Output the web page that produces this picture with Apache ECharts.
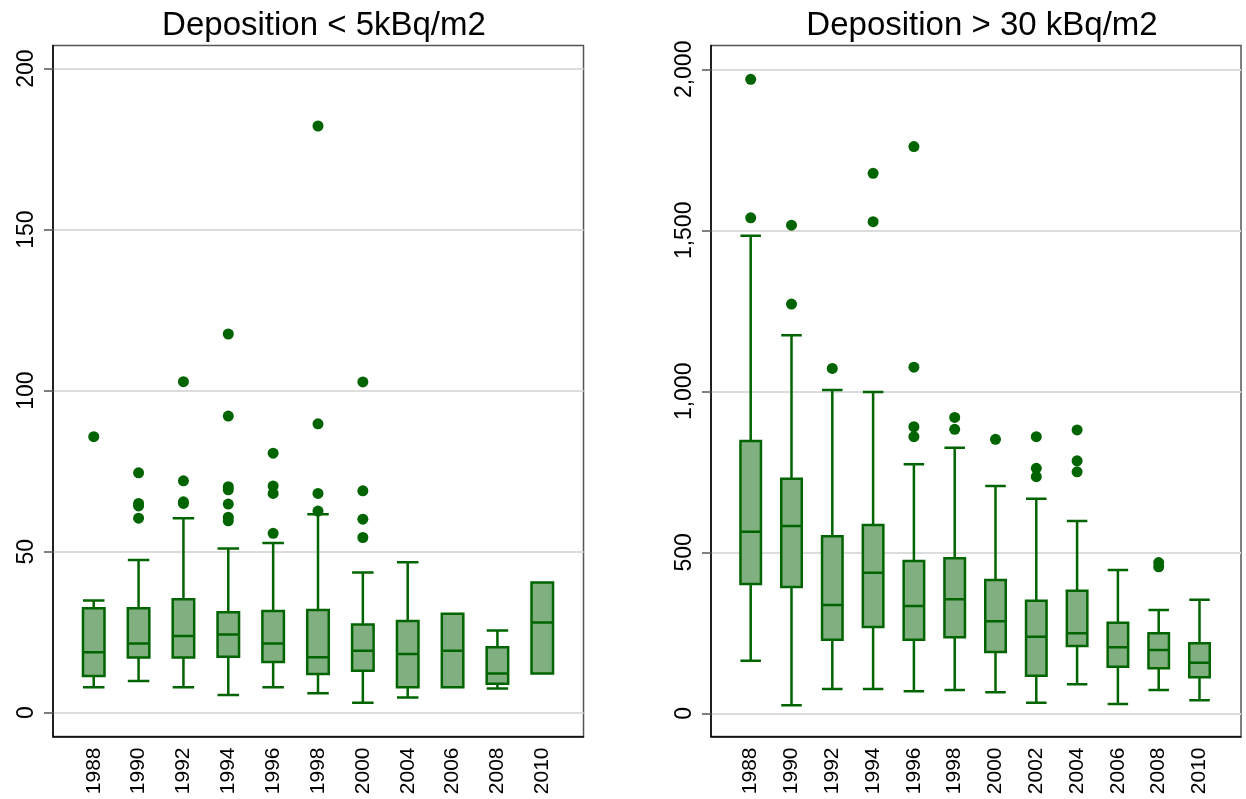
<!DOCTYPE html>
<html>
<head>
<meta charset="utf-8">
<script src="https://cdn.jsdelivr.net/npm/echarts@6/dist/echarts.min.js"></script>
<style>html,body{margin:0;padding:0;background:#fff}#c{width:1246px;height:799px}</style>
</head>
<body>
<div id="c"></div>
<script>
// ---- Left panel: Deposition < 5kBq/m2 ----
const yearsLow = ['1988','1990','1992','1994','1996','1998','2000','2004','2006','2008','2010'];
const lowMin = [7.9, 9.8, 7.9, 5.5, 7.9, 6.0, 3.1, 4.7, 7.9, 7.5, 12.2];
const lowQ1  = [11.4, 17.1, 17.1, 17.4, 15.7, 12.0, 13.0, 7.9, 7.9, 9.0, 12.2];
const lowMed = [18.8, 21.5, 23.8, 24.3, 21.5, 17.2, 19.2, 18.2, 19.2, 12.2, 28.0];
const lowQ3  = [32.4, 32.4, 35.2, 31.2, 31.6, 31.9, 27.4, 28.5, 30.7, 20.3, 40.4];
const lowMax = [34.8, 47.4, 60.4, 51.0, 52.7, 61.6, 43.5, 46.7, 30.7, 25.5, 40.4];
const lowOutlierYears  = ['1988','1990','1990','1990','1990','1992','1992','1992','1992',
  '1994','1994','1994','1994','1994','1994','1994','1996','1996','1996','1996',
  '1998','1998','1998','1998','2000','2000','2000','2000'];
const lowOutlierValues = [85.7, 74.5, 65.0, 64.2, 60.4, 102.8, 72.0, 65.5, 65.0,
  117.6, 92.1, 70.2, 69.2, 64.8, 60.7, 59.6, 80.6, 70.4, 68.1, 55.7,
  182.2, 89.7, 68.1, 62.6, 102.7, 68.9, 60.1, 54.4];
const lowTicks = [0, 50, 100, 150, 200];

// ---- Right panel: Deposition > 30 kBq/m2 ----
const yearsHigh = ['1988','1990','1992','1994','1996','1998','2000','2002','2004','2006','2008','2010'];
const highMin = [163.5, 24.8, 75.5, 75.5, 68.3, 72.4, 65.2, 33.0, 90.0, 28.9, 72.4, 40.4];
const highQ1  = [401.6, 392.3, 228.6, 268.0, 228.6, 236.0, 190.4, 116.8, 209.0, 144.7, 139.8, 111.8];
const highMed = [564.0, 581.8, 336.4, 436.7, 333.3, 354.0, 285.7, 237.9, 248.5, 205.0, 196.6, 157.2];
const highQ3  = [845.8, 728.8, 549.7, 584.9, 473.0, 481.4, 414.0, 349.7, 380.8, 281.4, 248.5, 217.4];
const highMax = [1483, 1174, 1004, 998, 773.4, 825, 706, 666.5, 597, 445, 320.8, 352.8];
const highOutlierYears  = ['1988','1988','1990','1990','1992','1994','1994','1996','1996','1996','1996',
  '1998','1998','2000','2002','2002','2002','2004','2004','2004','2008','2008'];
const highOutlierValues = [1969, 1539, 1516, 1271, 1071, 1677, 1527, 1760, 1075, 890, 859,
  919, 882, 851, 859, 761, 735, 880, 784, 750, 468, 455];
const highTicks = [0, 500, 1000, 1500, 2000];

const FONT = '"Liberation Sans", Arial, sans-serif';
const DARK = '#006400';
const FILL = '#80b080';

function boxData(mn, q1, md, q3, mx) {
  return mn.map((v, i) => [v, q1[i], md[i], q3[i], mx[i]]);
}
function pts(ys, vs) { return ys.map((y, i) => [y, vs[i]]); }
function fmt(v) { return String(v).replace(/\B(?=(\d{3})+(?!\d))/g, ','); }

const TOP = 45.5, BOTTOM = 799 - 736.5;

function borderGrid(left, right) {
  return { left: left, right: right, top: TOP, bottom: BOTTOM, show: true,
    borderColor: '#555', borderWidth: 1.5, backgroundColor: '#fff', containLabel: false };
}
function dataGrid(left, right) {
  return { left: left, right: right, top: TOP, bottom: BOTTOM, containLabel: false };
}
function borderX(gi) {
  return { type: 'value', gridIndex: gi, min: 0, max: 1, axisLabel: { show: false },
    axisTick: { show: false }, splitLine: { show: false },
    axisLine: { show: true, onZero: false, lineStyle: { color: '#000', width: 1.5 } } };
}
function borderY(gi, min, max, ticks, formatter) {
  return { type: 'value', gridIndex: gi, min: min, max: max,
    axisLine: { show: true, onZero: false, lineStyle: { color: '#000', width: 1.5 } },
    axisTick: { show: true, length: 9, inside: false, customValues: ticks,
      lineStyle: { color: '#555', width: 1.5 } },
    axisLabel: { show: true, customValues: ticks, rotate: 90, margin: 15,
      fontFamily: FONT, fontSize: 23, color: '#000', formatter: formatter },
    splitLine: { show: true, lineStyle: { color: '#dcdcdc', width: 2 } } };
}
function dataX(gi, cats) {
  return { type: 'category', gridIndex: gi, data: cats, boundaryGap: true,
    axisLine: { show: false }, axisTick: { show: false }, splitLine: { show: false },
    axisLabel: { show: true, rotate: 90, margin: 11, interval: 0,
      fontFamily: FONT, fontSize: 21, color: '#000' } };
}
function dataY(gi, min, max) {
  return { type: 'value', gridIndex: gi, min: min, max: max, show: false,
    splitLine: { show: false } };
}
function boxSeries(xi, data, w) {
  return { type: 'boxplot', xAxisIndex: xi, yAxisIndex: xi, data: data,
    boxWidth: [w, w], silent: true, animation: false,
    itemStyle: { color: FILL, borderColor: DARK, borderWidth: 2.5 } };
}
function outSeries(xi, data) {
  return { type: 'scatter', xAxisIndex: xi, yAxisIndex: xi, data: data,
    symbol: 'circle', symbolSize: 11, silent: true, animation: false,
    itemStyle: { color: DARK, opacity: 1 } };
}

const LOW_MIN = -7.4, LOW_MAX = 207.2;
const HIGH_MIN = -72, HIGH_MAX = 2074;

const chart = echarts.init(document.getElementById('c'), null, { renderer: 'canvas' });
chart.setOption({
  animation: false,
  backgroundColor: '#fff',
  title: [
    { text: 'Deposition < 5kBq/m2', left: 319, top: 4, textAlign: 'center',
      textStyle: { fontFamily: FONT, fontSize: 33, fontWeight: 'normal', color: '#000' } },
    { text: 'Deposition > 30 kBq/m2', left: 977, top: 4, textAlign: 'center',
      textStyle: { fontFamily: FONT, fontSize: 33, fontWeight: 'normal', color: '#000' } }
  ],
  grid: [
    borderGrid(53, 1246 - 583.5),
    dataGrid(71.3, 1246 - 564.7),
    borderGrid(711, 1246 - 1241),
    dataGrid(730.3, 1246 - 1219.9)
  ],
  xAxis: [
    borderX(0),
    dataX(1, yearsLow),
    borderX(2),
    dataX(3, yearsHigh)
  ],
  yAxis: [
    borderY(0, LOW_MIN, LOW_MAX, lowTicks, v => fmt(v)),
    dataY(1, LOW_MIN, LOW_MAX),
    borderY(2, HIGH_MIN, HIGH_MAX, highTicks, v => fmt(v)),
    dataY(3, HIGH_MIN, HIGH_MAX)
  ],
  series: [
    boxSeries(1, boxData(lowMin, lowQ1, lowMed, lowQ3, lowMax), 21.5),
    outSeries(1, pts(lowOutlierYears, lowOutlierValues)),
    boxSeries(3, boxData(highMin, highQ1, highMed, highQ3, highMax), 20.5),
    outSeries(3, pts(highOutlierYears, highOutlierValues))
  ]
});
</script>
</body>
</html>
